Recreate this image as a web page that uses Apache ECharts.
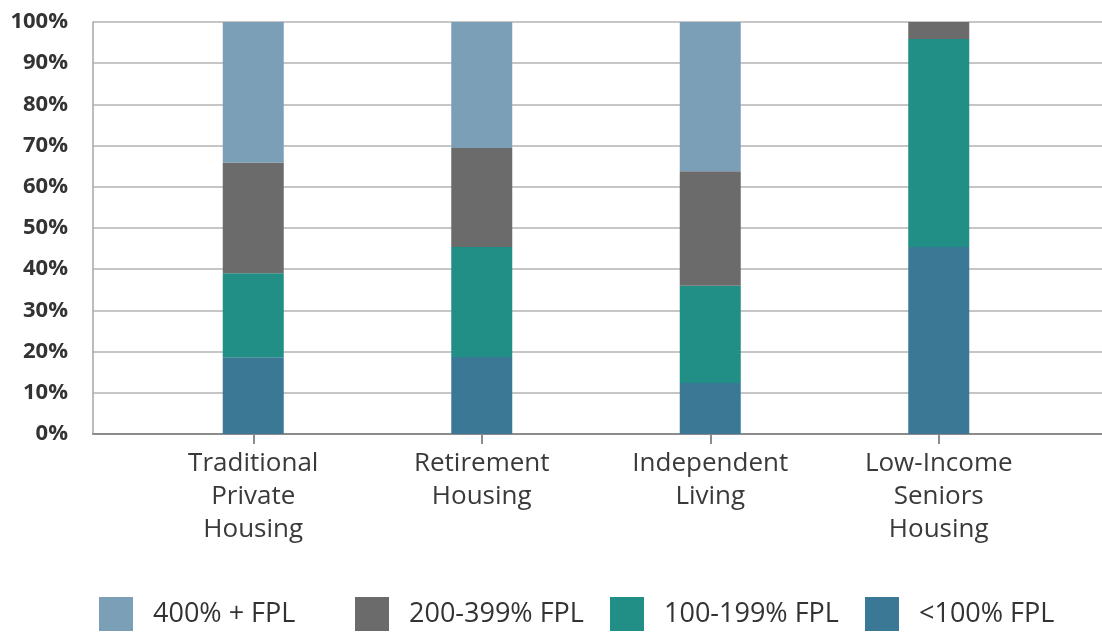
<!DOCTYPE html>
<html>
<head>
<meta charset="utf-8">
<script src="https://cdn.jsdelivr.net/npm/echarts@6/dist/echarts.min.js"></script>
<style>
  html, body { margin: 0; padding: 0; background: #fff; }
  #chart { width: 1102px; height: 633px; }
</style>
</head>
<body>
<div id="chart"></div>
<script>
const categories = ['Traditional\nPrivate\nHousing', 'Retirement\nHousing', 'Independent\nLiving', 'Low-Income\nSeniors\nHousing']
const below100 = [18.6, 18.7, 12.4, 45.4]
const fpl100to199 = [20.4, 26.7, 23.6, 50.5]
const fpl200to399 = [26.9, 24.0, 27.8, 4.1]
const fpl400plus = [34.1, 30.6, 36.2, 0]
const legendNames = ['400% + FPL', '200-399% FPL', '100-199% FPL', '<100% FPL']

const colors = {
  '400% + FPL': '#7a9fb7',
  '200-399% FPL': '#6b6b6b',
  '100-199% FPL': '#218f85',
  '<100% FPL': '#3b7895'
}

const chart = echarts.init(document.getElementById('chart'))

const makeSeries = (name, data) => ({
  name: name,
  type: 'bar',
  stack: 'total',
  xAxisIndex: 1,
  yAxisIndex: 1,
  barWidth: 61,
  itemStyle: { color: colors[name] },
  data: data
})

// one legend per entry so each sits at the same fixed pitch as the original
const legendLefts = [99, 355, 610, 865]
const legends = legendNames.map((name, i) => ({
  left: legendLefts[i],
  top: 597,
  padding: 0,
  itemWidth: 34,
  itemHeight: 34,
  icon: 'rect',
  data: [name],
  textStyle: {
    fontFamily: 'Open Sans',
    fontSize: 27,
    color: '#333',
    padding: [2, 0, 0, 15]
  }
}))

const option = {
  animation: false,
  textStyle: { fontFamily: 'Open Sans' },
  grid: [
    // background grid: axis lines, gridlines, y labels
    { left: 93, right: 0, top: 22, height: 412 },
    // bars sit in a narrower band like the original
    { left: 139, right: 49, top: 22, height: 412 }
  ],
  legend: legends,
  xAxis: [
    {
      type: 'value',
      gridIndex: 0,
      min: 0,
      max: 1,
      axisLine: { show: true, lineStyle: { color: '#8c8c8c', width: 2 } },
      axisTick: { show: false },
      axisLabel: { show: false },
      splitLine: { show: false }
    },
    {
      type: 'category',
      gridIndex: 1,
      data: categories,
      axisLine: { show: false },
      axisTick: {
        show: true,
        alignWithLabel: true,
        length: 10,
        lineStyle: { color: '#8c8c8c', width: 2 }
      },
      axisLabel: {
        fontFamily: 'Open Sans',
        fontSize: 26,
        lineHeight: 33,
        color: '#3a3a3a',
        margin: 13,
        interval: 0
      }
    }
  ],
  yAxis: [
    {
      type: 'value',
      gridIndex: 0,
      min: 0,
      max: 100,
      interval: 10,
      axisLine: { show: true, lineStyle: { color: '#a6a6a6', width: 1.5 } },
      axisTick: { show: false },
      axisLabel: {
        fontFamily: 'Open Sans',
        fontSize: 22,
        fontWeight: 'bold',
        color: '#333',
        margin: 25,
        formatter: '{value}%'
      },
      splitLine: { show: true, lineStyle: { color: '#c6c6c6', width: 2 } }
    },
    {
      type: 'value',
      gridIndex: 1,
      min: 0,
      max: 100,
      show: false,
      splitLine: { show: false }
    }
  ],
  series: [
    makeSeries('<100% FPL', below100),
    makeSeries('100-199% FPL', fpl100to199),
    makeSeries('200-399% FPL', fpl200to399),
    makeSeries('400% + FPL', fpl400plus)
  ]
}

chart.setOption(option)
</script>
</body>
</html>
